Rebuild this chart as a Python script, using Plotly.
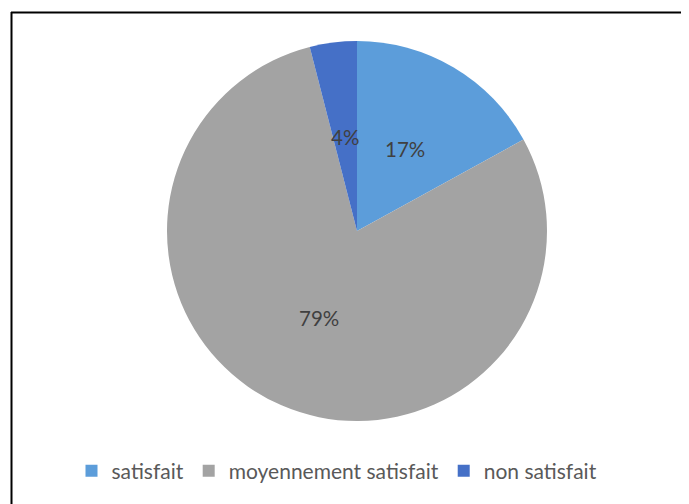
import math
import plotly.graph_objects as go

labels = ["satisfait", "moyennement satisfait", "non satisfait"]
values = [17, 79, 4]
colors = ["#5C9DDA", "#A3A3A3", "#4570C7"]

W, H = 689, 504
OFF = 8  # page body margin shifts the figure by 8px


def px(x):
    return (x - OFF) / W


def py(y):
    return 1 - (y - OFF) / H


cx, cy, R = 357, 231, 190  # pie centre / radius in pixels (screen)

fig = go.Figure(go.Pie(
    labels=labels, values=values, sort=False, direction="clockwise", rotation=0,
    marker=dict(colors=colors, line=dict(width=0)),
    textinfo="none", hoverinfo="label+percent",
    domain=dict(x=[px(cx - R), px(cx + R)], y=[py(cy + R), py(cy - R)]),
))

# percentage labels placed at mid-angle of each slice
total = sum(values)
cum = 0
annotations = []
for v in values:
    mid = (cum + v / 2) / total * 2 * math.pi
    cum += v
    lx = cx + 0.5 * R * math.sin(mid)
    ly = cy - 0.5 * R * math.cos(mid)
    annotations.append(dict(
        x=px(lx), y=py(ly), xref="paper", yref="paper", showarrow=False,
        xanchor="center", yanchor="middle",
        text=f"{round(v / total * 100)}%", font=dict(family="Lato, Noto Sans", size=20.5, color="#404040"),
    ))

fig.update_layout(
    width=W, height=H, margin=dict(l=0, r=0, t=0, b=0),
    paper_bgcolor="white", plot_bgcolor="white",
    annotations=annotations,
    showlegend=True,
    legend=dict(orientation="h", x=px(337), xanchor="center", y=py(471), yanchor="middle",
                font=dict(family="Lato, Noto Sans", size=21, color="#595959"),
                itemwidth=30, traceorder="normal"),
    shapes=[
        dict(type="line", xref="paper", yref="paper", x0=px(11), x1=1.01, y0=py(12.5), y1=py(12.5),
             line=dict(color="black", width=2)),
        dict(type="line", xref="paper", yref="paper", x0=px(11.5), x1=px(11.5), y0=-0.01, y1=py(12),
             line=dict(color="black", width=2)),
    ],
)

fig.write_html("out.html")
